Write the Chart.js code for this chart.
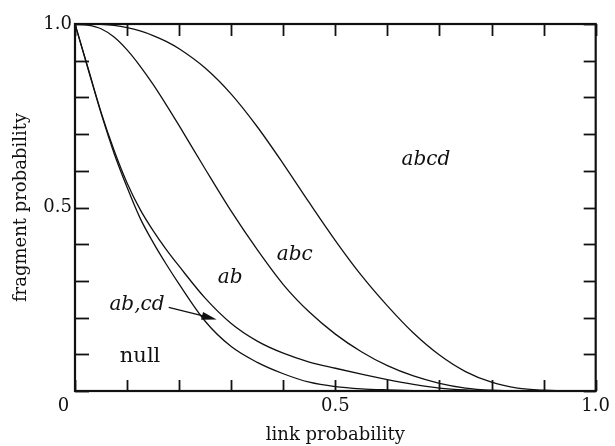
<!DOCTYPE html>
<html><head><meta charset="utf-8">
<script src="https://cdn.jsdelivr.net/npm/chart.js@4.4.1/dist/chart.umd.min.js"></script>
<style>html,body{margin:0;padding:0;background:#fff;}canvas{display:block;}</style>
</head><body>
<canvas id="c" width="615" height="446"></canvas>
<script>
// link probability values (x)
const linkProb = [0,0.025,0.05,0.075,0.1,0.125,0.15,0.175,0.2,0.25,0.3,0.35,0.4,0.45,0.5,0.55,0.6,0.65,0.7,0.75,0.8,0.85,0.9,0.95,1.0];
// boundary curves (fragment probability)
const curveNull = [1,0.878,0.757,0.648,0.555,0.471,0.405,0.346,0.291,0.19,0.121,0.078,0.047,0.024,0.012,0.006,0.003,0.001,0.0003,0,0,0,0,0,0];
const curveAb   = [1,0.88,0.76,0.656,0.567,0.495,0.437,0.386,0.34,0.253,0.184,0.136,0.103,0.079,0.062,0.046,0.031,0.018,0.008,0.003,0.001,0,0,0,0];
const curveAbc  = [1,0.997,0.987,0.9645,0.9295,0.8855,0.8355,0.7805,0.723,0.605,0.49,0.385,0.29,0.215,0.155,0.107,0.069,0.041,0.021,0.008,0.002,0,0,0,0];
const curveAbcd = [1,1,0.999,0.996,0.99,0.981,0.9685,0.9525,0.9325,0.88,0.809,0.72,0.619,0.513,0.41,0.315,0.232,0.158,0.098,0.053,0.024,0.008,0.002,0,0];
// tick labels
const xTickLabels = {0:'0    ', 0.5:'0.5', 1:'1.0'};
const yTickLabels = {0.5:'0.5', 1:'1.0'};
// region labels (data units, baseline)
const regionText   = ['abcd','abc','ab','ab,cd','null'];
const regionX      = [0.674,0.422,0.298,0.119,0.125];
const regionY      = [0.616,0.357,0.294,0.221,0.079];
const regionItalic = [true,true,true,true,false];
// arrow (data units)
const arrowFrom = [0.180,0.228];
const arrowTo   = [0.272,0.195];

const toPts = arr => arr.map((v,i)=>({x:linkProb[i], y:v}));
const mk = arr => ({data:toPts(arr), borderColor:'#111', borderWidth:1.3, pointRadius:0, fill:false, cubicInterpolationMode:'monotone'});

Chart.defaults.font.family = 'DejaVu Serif';
Chart.defaults.color = '#111';

const frame = {
  id:'frame',
  afterDraw(chart){
    const {ctx, chartArea:a, scales:{x,y}} = chart;
    ctx.save();
    ctx.strokeStyle='#111';
    ctx.lineWidth=1.8;
    x.ticks.forEach(t=>{
      const px = Math.round(x.getPixelForValue(t.value))+0.5;
      ctx.beginPath(); ctx.moveTo(px,a.bottom); ctx.lineTo(px,a.bottom-11); ctx.stroke();
      ctx.beginPath(); ctx.moveTo(px,a.top); ctx.lineTo(px,a.top+12); ctx.stroke();
    });
    y.ticks.forEach(t=>{
      const py = Math.round(y.getPixelForValue(t.value))+0.5;
      ctx.beginPath(); ctx.moveTo(a.left,py); ctx.lineTo(a.left+14,py); ctx.stroke();
      ctx.beginPath(); ctx.moveTo(a.right,py); ctx.lineTo(a.right-12,py); ctx.stroke();
    });
    ctx.lineWidth=2.2;
    ctx.strokeRect(a.left, a.top, a.right-a.left, a.bottom-a.top);
    // region labels
    ctx.fillStyle='#111';
    ctx.textAlign='center'; ctx.textBaseline='alphabetic';
    regionText.forEach((s,i)=>{
      ctx.font = (regionItalic[i]?'italic 20px':'21px') + ' "DejaVu Serif"';
      ctx.fillText(s, x.getPixelForValue(regionX[i]), y.getPixelForValue(regionY[i]));
    });
    // arrow
    const x0=x.getPixelForValue(arrowFrom[0]), y0=y.getPixelForValue(arrowFrom[1]);
    const x1=x.getPixelForValue(arrowTo[0]), y1=y.getPixelForValue(arrowTo[1]);
    const ang=Math.atan2(y1-y0,x1-x0), L=15, W=4;
    ctx.lineWidth=1.3;
    ctx.beginPath(); ctx.moveTo(x0,y0); ctx.lineTo(x1-L*Math.cos(ang)*0.8,y1-L*Math.sin(ang)*0.8); ctx.stroke();
    ctx.beginPath();
    ctx.moveTo(x1,y1);
    ctx.lineTo(x1-L*Math.cos(ang)+W*Math.sin(ang), y1-L*Math.sin(ang)-W*Math.cos(ang));
    ctx.lineTo(x1-L*Math.cos(ang)-W*Math.sin(ang), y1-L*Math.sin(ang)+W*Math.cos(ang));
    ctx.closePath(); ctx.fill();
    ctx.restore();
  }
};

new Chart(document.getElementById('c'), {
  type:'line',
  data:{datasets:[mk(curveNull), mk(curveAb), mk(curveAbc), mk(curveAbcd)]},
  options:{
    responsive:false, animation:false,
    layout:{padding:{top:24,right:13,left:0,bottom:0}},
    plugins:{legend:{display:false}, tooltip:{enabled:false}},
    scales:{
      x:{type:'linear', min:0, max:1,
        grid:{display:false, drawTicks:false}, border:{display:false},
        ticks:{stepSize:0.1, autoSkip:false, maxRotation:0, padding:5, font:{size:18},
          callback:v=>{const k=Math.round(v*10)/10; return xTickLabels[k]!==undefined?xTickLabels[k]:'';}},
        title:{display:true, text:'link probability', font:{size:18}, padding:{top:0,bottom:0}},
        afterFit:s=>{s.height=55;}
      },
      y:{type:'linear', min:0, max:1,
        grid:{display:false, drawTicks:false}, border:{display:false},
        ticks:{stepSize:0.1, autoSkip:false, padding:3, font:{size:18},
          callback:v=>{const k=Math.round(v*10)/10; return yTickLabels[k]!==undefined?yTickLabels[k]:'';}},
        title:{display:true, text:'fragment probability', font:{size:18}, padding:{top:11,bottom:0}},
        afterFit:s=>{s.width=75;}
      }
    }
  },
  plugins:[frame]
});
</script>
</body></html>
